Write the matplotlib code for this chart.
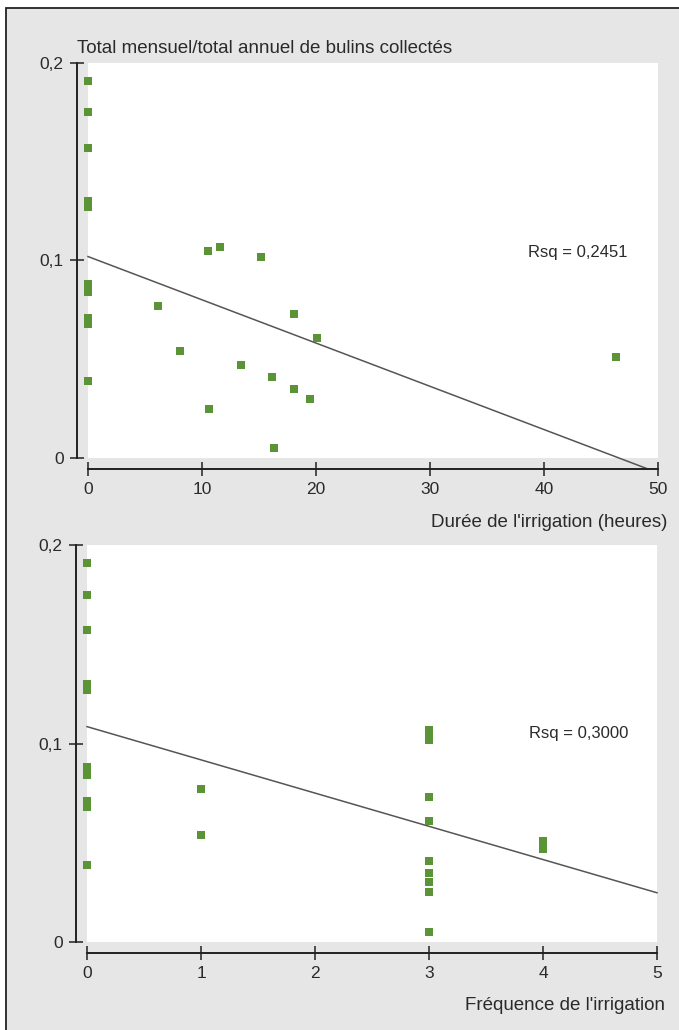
import numpy as np
import matplotlib
matplotlib.use("Agg")
import matplotlib.pyplot as plt
from matplotlib.patches import Rectangle
from matplotlib.ticker import FuncFormatter

plt.rcParams['font.family'] = ['Liberation Sans', 'DejaVu Sans']

# --- DATA ---
# monthly / yearly ratio of collected bulins, one value per observation
ratio = [0.191, 0.175, 0.157, 0.130, 0.127, 0.088, 0.084, 0.071, 0.068, 0.039,
         0.077, 0.054, 0.105, 0.025, 0.107, 0.047, 0.102, 0.041, 0.005, 0.073,
         0.035, 0.030, 0.061, 0.051]
# irrigation duration (hours)
hours = [0, 0, 0, 0, 0, 0, 0, 0, 0, 0,
         6.1, 8.1, 10.5, 10.6, 11.6, 13.4, 15.2, 16.1, 16.3, 18.1,
         18.1, 19.5, 20.1, 46.3]
# irrigation frequency
freq = [0, 0, 0, 0, 0, 0, 0, 0, 0, 0,
        1, 1, 3, 3, 3, 4, 3, 3, 3, 3,
        3, 3, 3, 4]

hours_fit = (0.102, -0.00219)     # intercept, slope
freq_fit = (0.1085, -0.01674)
hours_rsq = "Rsq = 0,2451"
freq_rsq = "Rsq = 0,3000"

y_ticks = [0, 0.1, 0.2]
hours_ticks = [0, 10, 20, 30, 40, 50]
freq_ticks = [0, 1, 2, 3, 4, 5]

title = "Total mensuel/total annuel de bulins collectés"
hours_label = "Durée de l'irrigation (heures)"
freq_label = "Fréquence de l'irrigation"

GREEN = '#5b9436'
W, H = 679, 1030
OFFSET = 8  # spine offset in points

fr = FuncFormatter(lambda v, p: f"{v:g}".replace('.', ','))

fig = plt.figure(figsize=(W / 100, H / 100), dpi=100, facecolor='white')
# grey panel with thin black frame (top/left edges visible)
fig.patches.append(Rectangle((6 / W, -0.1), 1.2, 1 - 8 / H + 0.1,
                             transform=fig.transFigure, facecolor='#e6e6e6',
                             edgecolor='#222222', lw=1.3, zorder=-10))


def panel(rect, x, y, xticks, fit, rsq, rsq_pos):
    ax = fig.add_axes(rect)
    ax.set_facecolor('white')
    ax.set_xlim(xticks[0], xticks[-1])
    ax.set_ylim(0, 0.2)
    for s in ['top', 'right']:
        ax.spines[s].set_visible(False)
    for s in ['left', 'bottom']:
        ax.spines[s].set_position(('outward', OFFSET))
        ax.spines[s].set_linewidth(1.4)
        ax.spines[s].set_color('#222222')
    ax.set_xticks(xticks)
    ax.set_yticks(y_ticks)
    ax.xaxis.set_major_formatter(fr)
    ax.yaxis.set_major_formatter(fr)
    ax.tick_params(direction='inout', length=10, width=1.1, color='#222222',
                   labelsize=12.5, labelcolor='#2a2a2a', pad=4.5)
    ax.scatter(x, y, marker='s', s=30, color=GREEN, linewidths=0,
               clip_on=False, zorder=3)

    # regression line, allowed to run down to the offset x-axis
    b, m = fit
    y_floor_disp = ax.transAxes.transform((0, 0))[1] - OFFSET / 72 * fig.dpi
    y_floor = ax.transData.inverted().transform((0, y_floor_disp))[1]
    x_end = xticks[-1]
    if b + m * x_end < y_floor:
        x_end = (y_floor - b) / m
    xs = np.array([xticks[0], x_end])
    ax.plot(xs, b + m * xs, color='#555555', lw=1.1, clip_on=False, zorder=2)

    ax.text(rsq_pos[0], rsq_pos[1], rsq, transform=ax.transAxes,
            fontsize=12, color='#2a2a2a', ha='left', va='center')
    return ax


ax1 = panel([88 / W, 1 - 458 / H, 570 / W, 395 / H], hours, ratio,
            hours_ticks, hours_fit, hours_rsq, (0.772, 0.519))
ax2 = panel([87 / W, 1 - 942 / H, 570 / W, 397 / H], freq, ratio,
            freq_ticks, freq_fit, freq_rsq, (0.775, 0.524))

fig.text(77 / W, 1 - 53 / H, title, fontsize=13.5, color='#2a2a2a',
         ha='left', va='baseline')
fig.text(667 / W, 1 - 527 / H, hours_label, fontsize=13.5, color='#2a2a2a',
         ha='right', va='baseline')
fig.text(665 / W, 1 - 1010 / H, freq_label, fontsize=13.5, color='#2a2a2a',
         ha='right', va='baseline')

fig.savefig('out.png', dpi=100, facecolor=fig.get_facecolor())
